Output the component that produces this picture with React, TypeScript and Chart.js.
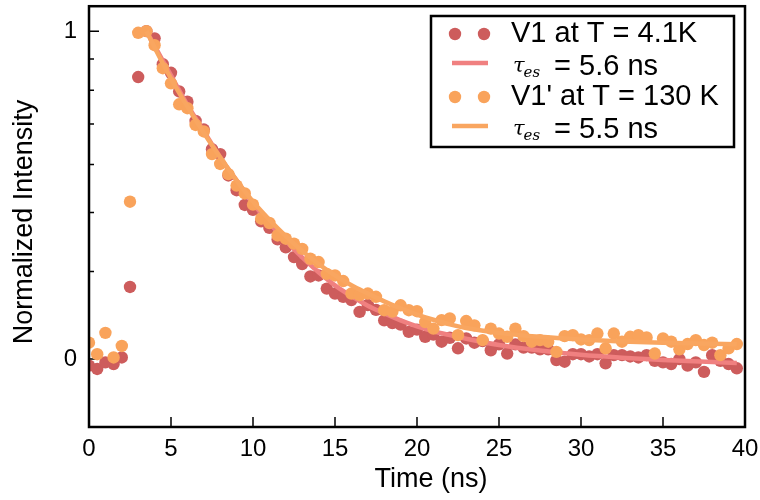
import React, { useEffect, useRef } from 'react';
import { Chart, registerables } from 'chart.js';
Chart.register(...registerables);

// ---- data ----
const TIME_NS = [
  0, 0.5, 1, 1.5, 2, 2.5, 3, 3.5, 4, 4.5, 5, 5.5, 6, 6.5, 7, 7.5, 8, 8.5, 9, 9.5,
  10, 10.5, 11, 11.5, 12, 12.5, 13, 13.5, 14, 14.5, 15, 15.5, 16, 16.5, 17, 17.5, 18, 18.5, 19, 19.5,
  20, 20.5, 21, 21.5, 22, 22.5, 23, 23.5, 24, 24.5, 25, 25.5, 26, 26.5, 27, 27.5, 28, 28.5, 29, 29.5,
  30, 30.5, 31, 31.5, 32, 32.5, 33, 33.5, 34, 34.5, 35, 35.5, 36, 36.5, 37, 37.5, 38, 38.5, 39, 39.5,
];

const V1_4K = [
  -0.02, -0.03, -0.01, -0.015, 0.005, 0.22, 0.86, 1.0, 0.978, 0.899, 0.873, 0.816, 0.785, 0.726, 0.70, 0.64, 0.625, 0.56, 0.515, 0.47,
  0.455, 0.42, 0.40, 0.365, 0.341, 0.311, 0.29, 0.252, 0.255, 0.215, 0.2, 0.19, 0.18, 0.144, 0.165, 0.15, 0.118, 0.11, 0.105, 0.083,
  0.09, 0.068, 0.075, 0.053, 0.065, 0.033, 0.063, 0.05, 0.055, 0.027, 0.045, 0.017, 0.045, 0.035, 0.035, 0.03, 0.03, -0.003, -0.008, 0.015,
  0.015, 0.008, 0.015, -0.013, 0.012, 0.012, 0.008, 0.005, 0.012, -0.005, -0.01, -0.015, 0.0, -0.02, -0.01, -0.039, 0.012, -0.005, -0.015, -0.028,
];

const V1P_130K = [
  0.05, 0.015, 0.08, 0.005, 0.04, 0.48, 0.995, 1.0, 0.957, 0.887, 0.841, 0.777, 0.765, 0.714, 0.694, 0.625, 0.595, 0.564, 0.529, 0.505,
  0.471, 0.428, 0.415, 0.377, 0.367, 0.352, 0.336, 0.306, 0.296, 0.26, 0.255, 0.238, 0.2, 0.195, 0.2, 0.19, 0.149, 0.145, 0.164, 0.149,
  0.146, 0.113, 0.093, 0.119, 0.124, 0.073, 0.116, 0.103, 0.058, 0.093, 0.078, 0.068, 0.093, 0.07, 0.053, 0.058, 0.053, 0.022, 0.07, 0.073,
  0.06, 0.058, 0.078, 0.033, 0.078, 0.053, 0.068, 0.073, 0.066, 0.017, 0.063, 0.053, 0.03, 0.046, 0.058, 0.043, 0.05, 0.012, 0.033, 0.046,
];

const FIT_T = [3.5, 4, 5, 6, 7, 8, 9, 10, 11, 12, 13, 14, 15, 16, 17, 18, 19, 20, 21, 22, 23, 25, 27.5, 30, 32.5, 35, 39.5];
const FIT_V1 = [1.0, 0.955, 0.865, 0.775, 0.695, 0.615, 0.545, 0.475, 0.415, 0.36, 0.31, 0.265, 0.225, 0.192, 0.163, 0.14, 0.118, 0.1, 0.085, 0.073, 0.062, 0.043, 0.026, 0.013, 0.004, -0.003, -0.012];
const FIT_V1P = [1.0, 0.95, 0.855, 0.77, 0.69, 0.615, 0.545, 0.48, 0.425, 0.375, 0.33, 0.29, 0.255, 0.225, 0.2, 0.176, 0.155, 0.136, 0.12, 0.106, 0.095, 0.08, 0.068, 0.06, 0.054, 0.05, 0.045];

const X_TICKS = [0, 5, 10, 15, 20, 25, 30, 35, 40];
const Y_LABEL_TICKS = [0, 1];
const Y_MARKS = [1, 0.915, 0.82, 0.717, 0.593, 0.447, 0.267, 0];
const Y_MARK_LONG = [true, false, false, false, false, false, false, true];

const LEGEND_LABELS = ['V1 at T = 4.1K', ' = 5.6 ns', "V1' at T = 130 K", ' = 5.5 ns'];

const RED = '#CD5C5C';
const RED_FIT = '#F08080';
const ORANGE = '#F9A35B';
const ORANGE_FIT = '#F9A660';
const SANS = '"Liberation Sans", Arial, sans-serif';
const DOT_R = 6.2;

const pts = (xs: number[], ys: number[]) => xs.map((x, i) => ({ x, y: ys[i] }));

const decor = {
  id: 'decor',
  beforeDatasetsDraw(chart: any) {
    const { ctx, chartArea: a, scales } = chart;
    const x = scales.x, y = scales.y;
    ctx.save();
    ctx.strokeStyle = '#000';
    ctx.lineWidth = 1.5;
    ctx.beginPath();
    X_TICKS.forEach((v) => {
      const px = x.getPixelForValue(v);
      ctx.moveTo(px, a.bottom);
      ctx.lineTo(px, a.bottom - 10);
    });
    Y_MARKS.forEach((v, i) => {
      const py = y.getPixelForValue(v);
      ctx.moveTo(a.left, py);
      ctx.lineTo(a.left + (Y_MARK_LONG[i] ? 10 : 5), py);
    });
    ctx.stroke();
    ctx.restore();
  },
  afterDatasetsDraw(chart: any) {
    const { ctx, chartArea: a } = chart;
    ctx.save();
    ctx.strokeStyle = '#000';
    ctx.lineWidth = 2.5;
    ctx.strokeRect(a.left, a.top, a.right - a.left, a.bottom - a.top);

    ctx.fillStyle = '#000';
    ctx.font = `27px ${SANS}`;
    ctx.textAlign = 'center';
    ctx.textBaseline = 'middle';
    ctx.fillText('Time (ns)', 431, 480);
    ctx.save();
    ctx.translate(25, 222);
    ctx.rotate(-Math.PI / 2);
    ctx.fillText('Normalized Intensity', 0, 0);
    ctx.restore();

    const bx = 431, by = 16, bw = 303, bh = 131;
    ctx.fillStyle = '#fff';
    ctx.fillRect(bx, by, bw, bh);
    ctx.lineWidth = 2.5;
    ctx.strokeRect(bx, by, bw, bh);

    const rows = [34, 66, 97, 129];
    const dotXs = [455, 484];
    ctx.fillStyle = RED;
    dotXs.forEach((dx) => { ctx.beginPath(); ctx.arc(dx, rows[0], DOT_R, 0, Math.PI * 2); ctx.fill(); });
    ctx.fillStyle = ORANGE;
    dotXs.forEach((dx) => { ctx.beginPath(); ctx.arc(dx, rows[2], DOT_R, 0, Math.PI * 2); ctx.fill(); });
    ctx.lineWidth = 4.5;
    ctx.strokeStyle = RED_FIT;
    ctx.beginPath(); ctx.moveTo(452, rows[1] - 3); ctx.lineTo(488, rows[1] - 3); ctx.stroke();
    ctx.strokeStyle = ORANGE_FIT;
    ctx.beginPath(); ctx.moveTo(452, rows[3] - 3); ctx.lineTo(488, rows[3] - 3); ctx.stroke();

    ctx.fillStyle = '#000';
    ctx.textAlign = 'left';
    ctx.textBaseline = 'alphabetic';
    ctx.font = `29px ${SANS}`;
    ctx.fillText(LEGEND_LABELS[0], 511, rows[0] + 8);
    ctx.fillText(LEGEND_LABELS[2], 511, rows[2] + 8);
    [1, 3].forEach((r) => {
      const base = rows[r] + 9;
      ctx.font = `italic 21px "DejaVu Serif", serif`;
      ctx.fillText('τ', 513, base - 3);
      const tw = ctx.measureText('τ').width;
      ctx.font = `italic 15px "DejaVu Serif", serif`;
      ctx.fillText('es', 512 + tw, base + 2);
      ctx.font = `29px ${SANS}`;
      ctx.fillText(LEGEND_LABELS[r], 546, base);
    });
    ctx.restore();
  },
};

export default function App() {
  const ref = useRef<HTMLCanvasElement>(null);
  useEffect(() => {
    if (!ref.current) return;
    const chart = new Chart(ref.current, {
      type: 'scatter',
      data: {
        datasets: [
          {
            type: 'line', label: 'fit V1p', data: pts(FIT_T, FIT_V1P),
            borderColor: ORANGE_FIT, borderWidth: 4.5, pointRadius: 0, fill: false,
            cubicInterpolationMode: 'monotone',
          },
          {
            label: "V1' at T = 130 K", data: pts(TIME_NS, V1P_130K),
            backgroundColor: ORANGE, borderWidth: 0, pointRadius: DOT_R, showLine: false,
          },
          {
            type: 'line', label: 'fit V1', data: pts(FIT_T, FIT_V1),
            borderColor: RED_FIT, borderWidth: 4.5, pointRadius: 0, fill: false,
            cubicInterpolationMode: 'monotone',
          },
          {
            label: 'V1 at T = 4.1K', data: pts(TIME_NS, V1_4K),
            backgroundColor: RED, borderWidth: 0, pointRadius: DOT_R, showLine: false,
          },
        ] as any,
      },
      options: {
        animation: false,
        responsive: false,
        maintainAspectRatio: false,
        layout: { padding: { top: 5, right: 15, left: 0, bottom: 0 } },
        plugins: { legend: { display: false }, tooltip: { enabled: false } },
        scales: {
          x: {
            type: 'linear', min: 0, max: 40,
            afterBuildTicks: (s: any) => { s.ticks = X_TICKS.map((v) => ({ value: v })); },
            ticks: { font: { size: 24, family: SANS }, color: '#000', padding: 8, maxRotation: 0 },
            grid: { display: false, drawTicks: false },
            border: { display: false },
            afterFit: (s: any) => { s.height = 73; s.paddingLeft = 0; s.paddingRight = 0; },
          },
          y: {
            type: 'linear', min: -0.207, max: 1.076,
            afterBuildTicks: (s: any) => { s.ticks = Y_LABEL_TICKS.map((v) => ({ value: v })); },
            ticks: { font: { size: 24, family: SANS }, color: '#000', padding: 12, callback: (v: any) => String(v) },
            grid: { display: false, drawTicks: false },
            border: { display: false },
            afterFit: (s: any) => { s.width = 89; s.paddingTop = 0; s.paddingBottom = 0; },
          },
        },
      },
      plugins: [decor],
    } as any);
    return () => chart.destroy();
  }, []);
  return (
    <div style={{ position: 'fixed', left: 0, top: 0, width: 760, height: 500, background: '#fff' }}>
      <canvas ref={ref} width={760} height={500} style={{ width: 760, height: 500, display: 'block' }} />
    </div>
  );
}
